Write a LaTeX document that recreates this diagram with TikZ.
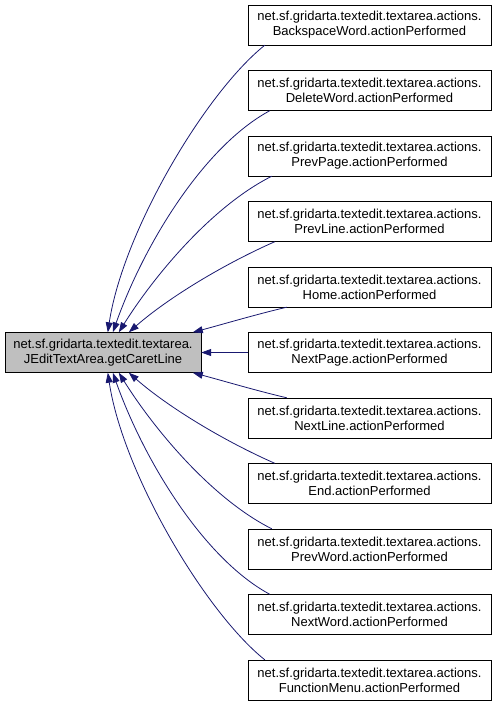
\documentclass[tikz,border=0pt]{standalone}
\usepackage{fontspec}
\setmainfont{Liberation Sans}
\usetikzlibrary{arrows.meta}
\definecolor{edgeblue}{HTML}{191970}

\begin{document}
\begin{tikzpicture}[x=1pt, y=1pt,
    caller/.style={draw=black, fill=white, minimum width=243pt, minimum height=40pt, inner sep=0pt, align=center, font=\fontsize{13}{15}\selectfont},
    focus/.style={caller, fill=black!25, minimum width=196pt},
    call/.style={draw=edgeblue, line width=0.8pt, -{Triangle[length=10pt,width=7pt]}}]
    \useasboundingbox (0,0) rectangle (495,-705);
    \node[focus] (caret) at (103,-352.5) {net.sf.gridarta.textedit.textarea.\\JEditTextArea.getCaretLine};
    \node[caller] (bksp) at (369.5,-25) {net.sf.gridarta.textedit.textarea.actions.\\BackspaceWord.actionPerformed};
    \node[caller] (delw) at (369.5,-90.5) {net.sf.gridarta.textedit.textarea.actions.\\DeleteWord.actionPerformed};
    \node[caller] (prevpg) at (369.5,-156) {net.sf.gridarta.textedit.textarea.actions.\\PrevPage.actionPerformed};
    \node[caller] (prevln) at (369.5,-221.5) {net.sf.gridarta.textedit.textarea.actions.\\PrevLine.actionPerformed};
    \node[caller] (home) at (369.5,-287) {net.sf.gridarta.textedit.textarea.actions.\\Home.actionPerformed};
    \node[caller] (nextpg) at (369.5,-352.5) {net.sf.gridarta.textedit.textarea.actions.\\NextPage.actionPerformed};
    \node[caller] (nextln) at (369.5,-418) {net.sf.gridarta.textedit.textarea.actions.\\NextLine.actionPerformed};
    \node[caller] (end) at (369.5,-483.5) {net.sf.gridarta.textedit.textarea.actions.\\End.actionPerformed};
    \node[caller] (prevw) at (369.5,-549) {net.sf.gridarta.textedit.textarea.actions.\\PrevWord.actionPerformed};
    \node[caller] (nextw) at (369.5,-614.5) {net.sf.gridarta.textedit.textarea.actions.\\NextWord.actionPerformed};
    \node[caller] (fmenu) at (369.5,-680) {net.sf.gridarta.textedit.textarea.actions.\\FunctionMenu.actionPerformed};
    % callers above
    \draw[call] ([xshift=17pt]bksp.south west) .. controls +(-60,-48) and +(15,100) .. ([xshift=103pt]caret.north west);
    \draw[call] ([xshift=22pt]delw.south west) .. controls +(-65,-35) and +(32,90) .. ([xshift=108pt]caret.north west);
    \draw[call] ([xshift=24pt]prevpg.south west) .. controls +(-60,-30) and +(35,56) .. ([xshift=114pt]caret.north west);
    \draw[call] ([xshift=27pt]prevln.south west) .. controls +(-50,-22) and +(40,35) .. ([xshift=124pt]caret.north west);
    \draw[call] ([xshift=39pt]home.south west) .. controls +(-30,-7) and +(30,8) .. ([xshift=188pt]caret.north west);
    \draw[call] (nextpg) -- (caret);
    % callers below
    \draw[call] ([xshift=39pt]nextln.north west) .. controls +(-30,7) and +(30,-8) .. ([xshift=188pt]caret.south west);
    \draw[call] ([xshift=27pt]end.north west) .. controls +(-50,22) and +(40,-35) .. ([xshift=124pt]caret.south west);
    \draw[call] ([xshift=24pt]prevw.north west) .. controls +(-60,30) and +(35,-56) .. ([xshift=114pt]caret.south west);
    \draw[call] ([xshift=22pt]nextw.north west) .. controls +(-65,35) and +(32,-90) .. ([xshift=108pt]caret.south west);
    \draw[call] ([xshift=17pt]fmenu.north west) .. controls +(-60,48) and +(15,-100) .. ([xshift=103pt]caret.south west);
\end{tikzpicture}
\end{document}
